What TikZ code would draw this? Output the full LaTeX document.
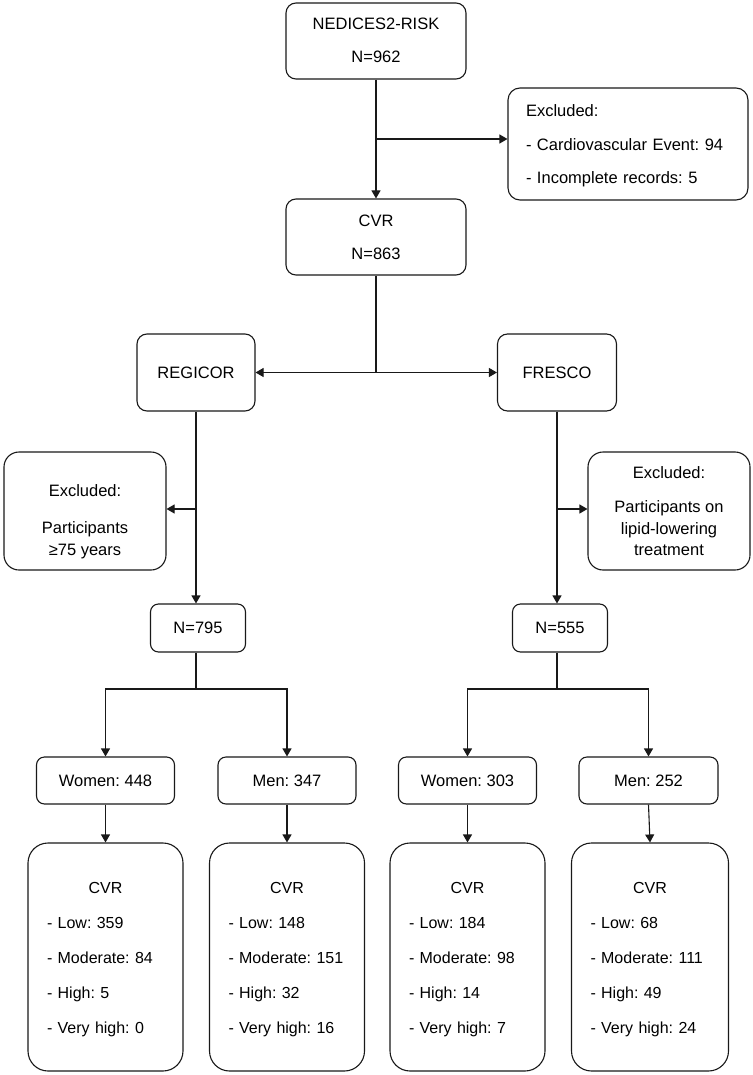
\documentclass[tikz,border=0pt]{standalone}
\usepackage{fontspec}
\setmainfont{Liberation Sans}
\usetikzlibrary{arrows.meta}
\newcommand{\topstrut}[1]{\rule{0pt}{#1pt}}
\newcommand{\botstrut}{\rule[-5pt]{0pt}{5pt}}
\begin{document}
\frenchspacing
\begin{tikzpicture}[x=1pt,y=1pt,
  box/.style={draw=black!90, line width=1.1pt, fill=white, rounded corners=#1,
    font=\fontsize{16.5}{21.5}\selectfont\frenchspacing, inner sep=0pt, align=center},
  box/.default=10pt,
  cvrbox/.style={box=20pt, minimum height=228pt, inner xsep=19pt, align=left,
    font=\fontsize{16}{21.5}\selectfont\frenchspacing},
  arr/.style={draw=black!90, line width=1.1pt, -{Triangle[length=8pt,width=9pt]}},
  ln/.style={draw=black!90, line width=1.1pt}]
\fill[white] (0,0) rectangle (752,-1075);
\useasboundingbox (0,0) rectangle (752,-1075);

% top part
\node[box, minimum width=180pt, minimum height=76pt] (ned) at (376,-41)
  {\topstrut{16}NEDICES2-RISK\\[11.5pt]N=962\botstrut};
\node[box, minimum width=180pt, minimum height=76pt] (cvr) at (376,-237)
  {\topstrut{16}CVR\\[11.5pt]N=863\botstrut};
\node[box=12pt, minimum width=240pt, minimum height=112pt, text width=204pt,
  align=left, inner xsep=18pt] (exc) at (628,-144)
  {\topstrut{18}Excluded:\\[12.5pt]- Cardiovascular Event: 94\\[11.5pt]- Incomplete records: 5\botstrut};

% cohorts
\node[box, minimum width=118pt, minimum height=77pt] (reg) at (196,-372.5) {REGICOR};
\node[box, minimum width=119pt, minimum height=77pt] (fre) at (557,-372.5) {FRESCO};

\node[box=15pt, minimum width=162pt, minimum height=118pt] (exL) at (85,-511)
  {\topstrut{34}Excluded:\\[15.5pt]Participants\\[0.5pt]≥75 years\botstrut};
\node[box=15pt, minimum width=162pt, minimum height=118pt] (exR) at (669,-511)
  {\topstrut{17}Excluded:\\[12.5pt]Participants on\\lipid-lowering\\treatment\botstrut};

\node[box=8pt, minimum width=95pt, minimum height=48pt] (n1) at (198,-628) {N=795};
\node[box=8pt, minimum width=95pt, minimum height=48pt] (n2) at (560,-628) {N=555};

% sex groups
\node[box=8pt, minimum width=138pt, minimum height=47pt] (w1) at (105.5,-780.5) {Women: 448};
\node[box=8pt, minimum width=138pt, minimum height=47pt] (m1) at (287,-780.5) {Men: 347};
\node[box=8pt, minimum width=138pt, minimum height=47pt] (w2) at (467.5,-780.5) {Women: 303};
\node[box=8pt, minimum width=139pt, minimum height=47pt] (m2) at (648.5,-780.5) {Men: 252};

% CVR breakdown
\node[cvrbox, text width=117pt] (c1) at (105.5,-957)
  {\topstrut{17}\makebox[117pt]{CVR}\\[13.5pt]- Low: 359\\[13.5pt]- Moderate: 84\\[13.5pt]- High: 5\\[13.5pt]- Very high: 0\botstrut};
\node[cvrbox, text width=117pt] (c2) at (287,-957)
  {\topstrut{17}\makebox[117pt]{CVR}\\[13.5pt]- Low: 148\\[13.5pt]- Moderate: 151\\[13.5pt]- High: 32\\[13.5pt]- Very high: 16\botstrut};
\node[cvrbox, text width=117pt] (c3) at (467.5,-957)
  {\topstrut{17}\makebox[117pt]{CVR}\\[13.5pt]- Low: 184\\[13.5pt]- Moderate: 98\\[13.5pt]- High: 14\\[13.5pt]- Very high: 7\botstrut};
\node[cvrbox, text width=119pt] (c4) at (650,-957)
  {\topstrut{17}\makebox[119pt]{CVR}\\[13.5pt]- Low: 68\\[13.5pt]- Moderate: 111\\[13.5pt]- High: 49\\[13.5pt]- Very high: 24\botstrut};

% connectors
\draw[arr] (ned.south) -- (cvr.north);
\coordinate (j1) at (376,-139);
\draw[arr] (j1) -- (exc.west |- j1);

\coordinate (j2) at (376,-372.5);
\draw[ln] (cvr.south) -- (j2);
\draw[arr] (j2) -- (reg.east);
\draw[arr] (j2) -- (fre.west);

\draw[arr] (reg.south) -- (reg.south |- n1.north);
\coordinate (j3) at (196,-509);
\draw[arr] (j3) -- (exL.east |- j3);

\draw[arr] (fre.south) -- (fre.south |- n2.north);
\coordinate (j4) at (557,-509);
\draw[arr] (j4) -- (exR.west |- j4);

\coordinate (j5) at (196,-689);
\draw[ln] (reg.south |- n1.south) -- (j5);
\draw[arr] (j5) -| (w1.north);
\draw[arr] (j5) -| (m1.north);

\coordinate (j6) at (557,-689);
\draw[ln] (fre.south |- n2.south) -- (j6);
\draw[arr] (j6) -| (w2.north);
\draw[arr] (j6) -| (m2.north);

\draw[arr] (w1.south) -- (c1.north);
\draw[arr] (m1.south) -- (c2.north);
\draw[arr] (w2.south) -- (c3.north);
\draw[arr] (m2.south) -- (c4.north);
\end{tikzpicture}
\end{document}
